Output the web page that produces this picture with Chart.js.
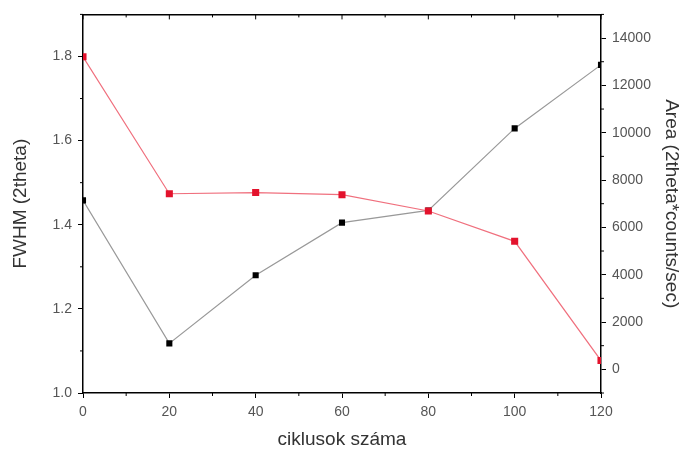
<!DOCTYPE html>
<html>
<head>
<meta charset="utf-8">
<script src="https://cdn.jsdelivr.net/npm/chart.js@4/dist/chart.umd.min.js"></script>
<style>
html,body{margin:0;padding:0;background:#fff;}
#wrap{width:686px;height:454px;position:relative;}
</style>
</head>
<body>
<div id="wrap"><canvas id="c" width="686" height="454"></canvas></div>
<script>
const cycles = [0, 20, 40, 60, 80, 100, 120];
const fwhm = [1.458, 1.118, 1.280, 1.405, 1.434, 1.629, 1.780];
const area = [13210, 7420, 7470, 7380, 6690, 5410, 370];
const xTicks = [0, 20, 40, 60, 80, 100, 120];
const leftTicks = [1.0, 1.2, 1.4, 1.6, 1.8];
const rightTicks = [0, 2000, 4000, 6000, 8000, 10000, 12000, 14000];

const minorTicks = {
  id: 'minorTicks',
  afterDraw(chart) {
    const ctx = chart.ctx;
    const s = chart.scales;
    ctx.save();
    ctx.strokeStyle = '#000';
    ctx.lineWidth = 1;
    ctx.beginPath();
    for (let v = 10; v < 120; v += 20) {
      const px = s.x.getPixelForValue(v);
      ctx.moveTo(px, s.x.top); ctx.lineTo(px, s.x.top + 3);
      ctx.moveTo(px, s.xTop.bottom); ctx.lineTo(px, s.xTop.bottom + 3);
    }
    for (let v = 1.1; v < 1.95; v += 0.2) {
      const py = s.y.getPixelForValue(v);
      ctx.moveTo(s.y.right, py); ctx.lineTo(s.y.right - 3, py);
    }
    for (let v = -1000; v <= 15000; v += 2000) {
      const py = s.y1.getPixelForValue(v);
      ctx.moveTo(s.y1.left, py); ctx.lineTo(s.y1.left + 3, py);
    }
    for (const v of xTicks) {
      const px = s.x.getPixelForValue(v);
      ctx.moveTo(px, s.xTop.bottom); ctx.lineTo(px, s.xTop.bottom + 5);
    }
    ctx.stroke();
    ctx.restore();
  }
};

const tickFont = {family: '"Liberation Sans", Arial, sans-serif', size: 14};
const titleFont = {family: '"Liberation Sans", Arial, sans-serif', size: 19};

new Chart(document.getElementById('c'), {
  type: 'line',
  data: {
    datasets: [
      {
        label: 'Area',
        data: cycles.map((c, i) => ({x: c, y: area[i]})),
        yAxisID: 'y1',
        borderColor: '#f0707e',
        borderWidth: 1.2,
        pointStyle: 'rect',
        pointRadius: 5,
        pointBackgroundColor: '#e3122c',
        pointBorderColor: '#e3122c',
        pointBorderWidth: 0,
        tension: 0
      },
      {
        label: 'FWHM',
        data: cycles.map((c, i) => ({x: c, y: fwhm[i]})),
        yAxisID: 'y',
        borderColor: '#999999',
        borderWidth: 1.2,
        pointStyle: 'rect',
        pointRadius: 4.3,
        pointBackgroundColor: '#000',
        pointBorderColor: '#000',
        pointBorderWidth: 0,
        tension: 0
      }
    ]
  },
  options: {
    responsive: false,
    animation: false,
    layout: {padding: 0},
    plugins: {legend: {display: false}, tooltip: {enabled: false}},
    scales: {
      x: {
        type: 'linear', position: 'bottom', min: 0, max: 120,
        afterBuildTicks: sc => { sc.ticks = xTicks.map(v => ({value: v})); },
        afterFit: sc => { sc.height = 61; },
        ticks: {color: '#555', font: tickFont, padding: 6, maxRotation: 0},
        grid: {drawOnChartArea: false, tickLength: 5, color: '#000', tickWidth: 1},
        border: {color: '#000', width: 1.5},
        title: {display: true, text: 'ciklusok száma', color: '#333', font: titleFont, padding: {top: 0, bottom: 3}}
      },
      xTop: {
        type: 'linear', position: 'top', min: 0, max: 120,
        afterFit: sc => { sc.height = 13; },
        ticks: {display: false},
        grid: {drawOnChartArea: false, drawTicks: false},
        border: {color: '#000', width: 1.5}
      },
      y: {
        type: 'linear', position: 'left', min: 1.0, max: 1.9,
        afterBuildTicks: sc => { sc.ticks = leftTicks.map(v => ({value: v})); },
        afterFit: sc => { sc.width = 83; },
        ticks: {color: '#555', font: tickFont, padding: 6, callback: v => v.toFixed(1)},
        grid: {drawOnChartArea: false, tickLength: 5, color: '#000'},
        border: {color: '#000', width: 1.5},
        title: {display: true, text: 'FWHM (2theta)', color: '#333', font: titleFont, padding: {top: 9, bottom: 0}}
      },
      y1: {
        type: 'linear', position: 'right', min: -1000, max: 15000,
        afterBuildTicks: sc => { sc.ticks = rightTicks.map(v => ({value: v})); },
        afterFit: sc => { sc.width = 85; },
        ticks: {color: '#555', font: tickFont, padding: 6, callback: v => String(v)},
        grid: {drawOnChartArea: false, tickLength: 5, color: '#000'},
        border: {color: '#000', width: 1.5},
        title: {display: true, text: 'Area (2theta*counts/sec)', color: '#333', font: titleFont, padding: {top: 3, bottom: 0}}
      }
    }
  },
  plugins: [minorTicks]
});
</script>
</body>
</html>
